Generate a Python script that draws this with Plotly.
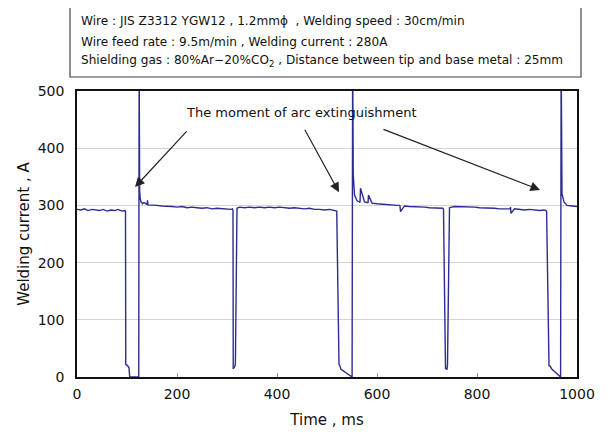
import plotly.graph_objects as go

# Welding current trace (time in ms, current in A)
time_ms = [
    0, 8, 15, 22, 30, 38, 45, 52, 60, 68, 75, 82, 90, 96, 97, 97.5, 101, 104, 105.5,
    123.5, 124.3, 125.3, 126.5, 128, 131, 134, 140, 141, 142, 150, 160, 170, 180, 190,
    200, 210, 220, 230, 240, 250, 260, 270, 280, 290, 300, 308, 311, 312, 312.5, 316, 316.8,
    320, 325, 335, 345, 355, 365, 375, 385, 395, 405, 415, 425, 435, 445, 455, 465, 475,
    485, 495, 505, 512, 518.5, 519, 519.5, 524, 526, 527.5,
    549.5, 550.2, 551.3, 552.5, 555, 560, 565, 566, 567, 575, 581, 582, 583, 590, 600,
    610, 620, 630, 640, 645, 646, 647, 655, 665, 675, 685, 695, 705, 715, 725, 731.5,
    732.5, 733, 737, 740, 741, 745, 755, 765, 775, 785, 795, 805, 815, 825, 835, 845,
    855, 865, 866, 867, 868, 875, 885, 895, 905, 915, 925, 935, 938.5, 939.2, 944, 946, 949.5,
    966.5, 967.2, 968.3, 970, 974, 980, 990, 1000,
]
current_a = [
    293, 292, 294, 291, 293, 292, 291, 293, 290, 292, 291, 293, 290, 291, 289, 22, 20, 16, 0,
    0, 560, 325, 312, 306, 303, 305, 302, 309, 301, 301, 300, 299, 299, 298, 297,
    298, 296, 297, 296, 295, 296, 294, 295, 294, 294, 293, 294, 291, 14, 19, 24, 295,
    297, 296, 297, 296, 297, 296, 297, 296, 297, 296, 295, 296, 295, 294, 295, 293, 293,
    292, 293, 292, 291, 290, 290, 22, 19, 14, 0,
    0, 560, 355, 318, 308, 306, 305, 330, 306, 305, 304, 318, 304, 303, 302,
    302, 301, 300, 300, 299, 289, 299, 298, 298, 297, 297, 296, 296, 295, 295, 294,
    293, 15, 13, 22, 296, 298, 298, 298, 297, 297, 296, 296, 295, 295, 294, 294,
    293, 294, 297, 286, 294, 293, 292, 293, 292, 291, 292, 291, 290, 20, 19, 14, 0,
    0, 560, 320, 306, 300, 299, 298, 298,
]

x_ticks = [0, 200, 400, 600, 800, 1000]
y_ticks = [0, 100, 200, 300, 400, 500]

info_lines = [
    "Wire : JIS Z3312 YGW12 , 1.2mm\u03d5  , Welding speed : 30cm/min",
    "Wire feed rate : 9.5m/min , Welding current : 280A",
    "Shielding gas : 80%Ar\u221220%CO<sub>2</sub> , Distance between tip and base metal : 25mm",
]
label_text = "The moment of arc extinguishment"
# arrows: (tail_x, tail_y, tip_x, tip_y) in data units
arrow_tails_x = [222, 454, 610]
arrow_tails_y = [432, 435, 434]
arrow_tips_x = [116, 524, 926]
arrow_tips_y = [332, 323, 327]

FONT = "DejaVu Sans, sans-serif"

fig = go.Figure()
fig.add_trace(go.Scatter(
    x=time_ms, y=current_a, mode="lines",
    line=dict(color="#2c2c94", width=1.4),
    showlegend=False, hoverinfo="skip",
))

annotations = []
for tx, ty, hx, hy in zip(arrow_tails_x, arrow_tails_y, arrow_tips_x, arrow_tips_y):
    annotations.append(dict(
        x=hx, y=hy, ax=tx, ay=ty, xref="x", yref="y", axref="x", ayref="y",
        text="", showarrow=True, arrowhead=2, arrowsize=1.6, arrowwidth=1.2,
        arrowcolor="#222222",
    ))
annotations.append(dict(
    x=448, y=462, xref="x", yref="y", text=label_text, showarrow=False,
    font=dict(family=FONT, size=13, color="#111111"),
))
line_y = [1.245, 1.171, 1.105]
for txt, yy in zip(info_lines, line_y):
    annotations.append(dict(
        x=0.004, y=yy, xref="paper", yref="paper", text=txt, showarrow=False,
        xanchor="left", yanchor="middle",
        font=dict(family=FONT, size=12.1, color="#111111"),
    ))

# the page body has an 8px default margin; the figure is sized to fill the rest
fig.update_layout(
    width=602, height=429,
    margin=dict(l=69, r=33, t=83, b=60, autoexpand=False),
    paper_bgcolor="white", plot_bgcolor="white",
    font=dict(family=FONT, color="#111111"),
    annotations=annotations,
    shapes=[dict(
        type="rect", xref="paper", yref="paper",
        x0=-0.014, x1=1.008, y0=1.049, y1=1.294,
        line=dict(color="#444444", width=1.2), fillcolor="rgba(0,0,0,0)",
    )],
    xaxis=dict(
        range=[0, 1000], tickvals=x_ticks, ticktext=[str(v) for v in x_ticks],
        showgrid=False, zeroline=False, automargin=False,
        showline=True, linecolor="#111111", linewidth=1.5, mirror=True,
        ticks="inside", ticklen=4, tickcolor="#999999", ticklabelstandoff=3,
        tickfont=dict(size=14, family=FONT),
        title=dict(text="Time , ms", font=dict(size=15, family=FONT), standoff=14),
    ),
    yaxis=dict(
        range=[0, 500], tickvals=y_ticks, ticktext=[str(v) for v in y_ticks],
        showgrid=True, gridcolor="#d4d4d4", gridwidth=1, zeroline=False, automargin=False,
        showline=True, linecolor="#111111", linewidth=1.5, mirror=True,
        ticks="", tickfont=dict(size=14, family=FONT), ticklabelstandoff=8,
        title=dict(text="Welding current , A", font=dict(size=15, family=FONT), standoff=4),
    ),
)

fig.write_html("out.html")
